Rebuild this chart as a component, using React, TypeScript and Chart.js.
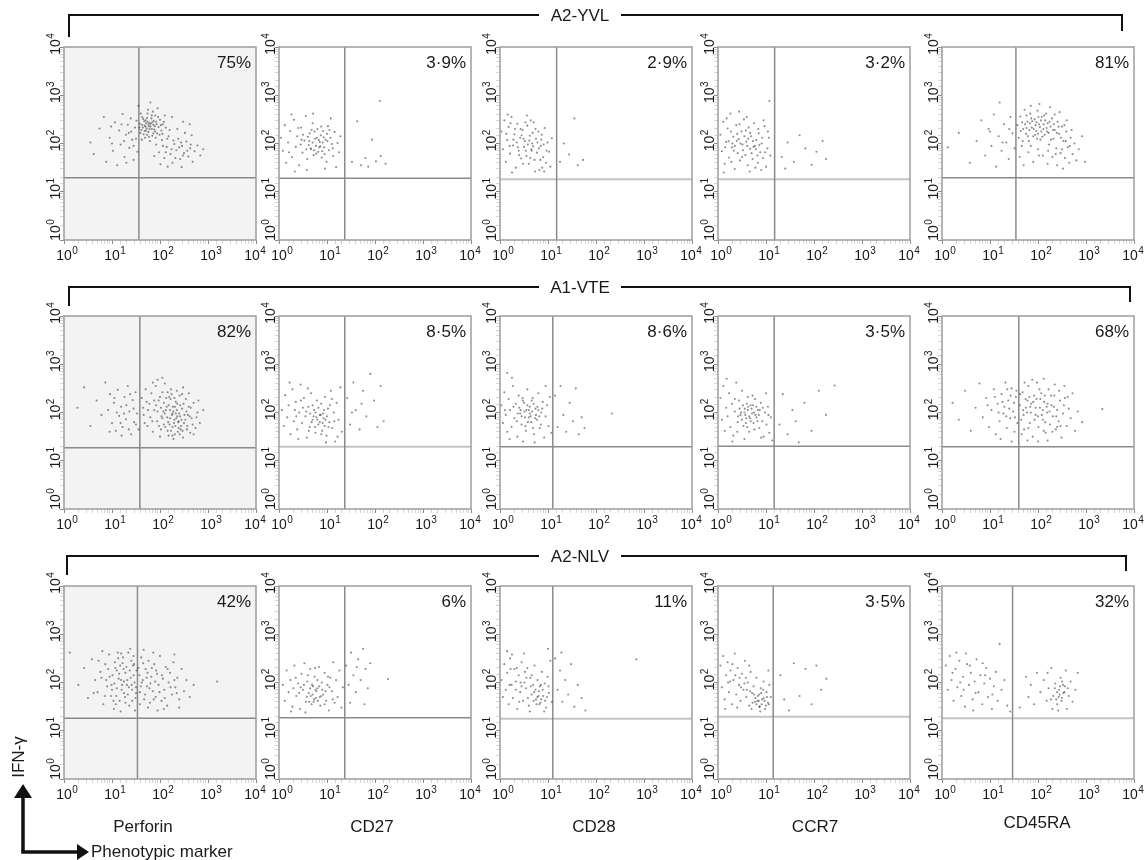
import React, { useEffect, useRef } from 'react';
import { Chart, registerables } from 'chart.js';

Chart.register(...registerables);

const FONT = '"Liberation Sans", Arial, Helvetica, sans-serif';

// ---------- DATA (log10 units: [x, y, x, y, ...]) ----------
const rowLabels = ['A2-YVL', 'A1-VTE', 'A2-NLV'];
const markers = ['Perforin', 'CD27', 'CD28', 'CCR7', 'CD45RA'];
const tickExponents = [0, 1, 2, 3, 4];

const percentsYVL = ['75%', '3·9%', '2·9%', '3·2%', '81%'];
const percentsVTE = ['82%', '8·5%', '8·6%', '3·5%', '68%'];
const percentsNLV = ['42%', '6%', '11%', '3·5%', '32%'];

const gateXYVL = [1.56, 1.37, 1.18, 1.18, 1.54];
const gateYYVL = [1.29, 1.28, 1.26, 1.26, 1.29];
const gateXVTE = [1.58, 1.37, 1.1, 1.17, 1.6];
const gateYVTE = [1.27, 1.29, 1.29, 1.3, 1.29];
const gateXNLV = [1.53, 1.37, 1.1, 1.15, 1.47];
const gateYNLV = [1.26, 1.27, 1.25, 1.29, 1.26];

const yvlPerforin = [
  0.55,2.02, 0.62,1.78, 0.74,2.31, 0.83,2.55, 0.88,1.62, 0.95,2.12, 1.02,1.85, 1.06,2.44, 1.11,1.55, 1.15,2.27,
  1.18,1.98, 1.22,2.61, 1.26,1.72, 1.29,2.18, 1.33,2.39, 1.36,1.91, 1.39,2.52, 1.42,2.08, 1.45,1.66, 1.48,2.33,
  1.51,2.47, 1.53,1.83, 1.25,2.05, 0.98,2.35, 1.40,2.25,
  1.58,2.41, 1.61,2.28, 1.63,2.55, 1.66,2.19, 1.68,2.37, 1.70,2.48, 1.72,2.31, 1.74,2.62, 1.76,2.24, 1.78,2.43,
  1.80,2.35, 1.82,2.52, 1.84,2.16, 1.86,2.39, 1.88,2.29, 1.90,2.58, 1.92,2.45, 1.94,2.21, 1.97,2.34, 2.00,2.49,
  2.03,2.27, 2.06,2.40, 1.64,2.33, 1.69,2.12, 1.75,2.70, 1.79,2.05, 1.85,2.66, 1.71,2.42, 1.77,2.36, 1.83,2.30,
  1.60,2.62, 1.67,2.46, 1.73,2.18, 1.87,2.47, 1.62,2.08, 2.10,2.58, 1.95,2.73, 2.12,2.33,
  1.92,1.98, 1.98,1.82, 2.04,2.07, 2.09,1.70, 2.14,1.93, 2.18,2.15, 2.22,1.78, 2.26,1.60, 2.30,1.99, 2.34,1.86,
  2.38,2.10, 2.42,1.68, 2.46,1.95, 2.50,1.80, 2.55,2.04, 2.59,1.73, 2.63,1.90, 2.68,1.62, 2.72,1.84, 2.78,1.96,
  2.84,1.75, 2.20,2.28, 2.36,2.30, 2.52,2.22, 1.88,1.74, 2.01,1.57, 2.16,1.52, 2.45,1.51, 2.66,2.17, 2.90,1.88,
  1.80,2.85, 2.25,2.55, 2.48,2.45, 1.55,2.78, 2.62,2.40,
  1.59,2.22, 1.65,2.51, 1.71,2.27, 1.74,2.45, 1.77,2.14, 1.81,2.41, 1.83,2.58, 1.86,2.21, 1.89,2.36, 1.91,2.12,
  1.93,2.40, 1.96,2.55, 1.99,2.18, 2.02,2.38, 2.05,2.20, 2.08,2.45, 1.57,2.33, 1.63,2.39, 1.68,2.26, 1.73,2.53,
  1.78,2.30, 1.84,2.44, 1.90,2.25, 1.76,2.40, 1.70,2.35, 2.15,2.10, 2.24,1.88, 2.32,1.70, 2.40,1.92, 2.48,1.75,
  2.57,1.85, 2.64,1.98, 2.12,1.82, 2.28,2.06, 2.44,2.02, 2.06,1.95, 1.35,2.22, 1.20,2.40, 1.45,1.95, 1.00,2.00,
  1.30,1.60, 1.50,2.10,
];
const yvlCD27 = [
  0.04,2.12, 0.08,1.85, 0.12,2.38, 0.15,1.60, 0.19,2.02, 0.23,2.26, 0.27,1.72, 0.31,2.49, 0.35,1.93, 0.38,2.15,
  0.42,1.55, 0.46,2.33, 0.49,1.81, 0.53,2.06, 0.56,2.57, 0.59,1.68, 0.62,1.97, 0.64,2.21, 0.67,1.88, 0.70,2.42,
  0.72,1.76, 0.75,2.10, 0.77,1.95, 0.80,2.30, 0.82,1.83, 0.85,2.03, 0.87,2.17, 0.89,1.71, 0.92,2.26, 0.94,1.92,
  0.97,2.08, 0.99,1.62, 1.02,2.36, 1.04,1.86, 1.07,2.12, 1.10,1.99, 1.13,1.74, 1.16,2.24, 1.19,1.51, 1.22,2.01,
  1.25,1.82, 1.28,2.15, 0.60,2.14, 0.70,2.02, 0.78,1.79, 0.86,1.94, 0.93,2.13, 0.66,1.90, 0.74,2.25, 0.83,2.07,
  0.90,1.84, 1.00,2.20, 0.50,2.18, 0.45,1.98, 0.58,1.45, 0.96,1.48, 0.33,1.42, 1.08,2.52, 0.26,2.60, 0.71,2.62,
  0.63,2.05, 0.68,2.28, 0.73,1.86, 0.79,2.12, 0.84,1.92, 0.88,2.35, 0.91,2.02, 0.95,1.78, 1.01,2.05, 1.05,2.28,
  0.57,1.88, 0.47,2.08, 0.40,2.32, 0.21,1.82, 1.12,1.90,
  1.52,1.62, 1.63,2.46, 1.71,1.55, 1.80,1.70, 1.94,2.08, 2.02,1.63, 2.12,1.74, 2.10,2.88, 1.86,1.52, 2.22,1.58,
];
const yvlCD28 = [
  0.03,2.25, 0.06,1.88, 0.09,2.48, 0.12,1.62, 0.15,2.07, 0.18,2.34, 0.21,1.79, 0.24,2.55, 0.27,1.96, 0.30,2.19,
  0.33,1.50, 0.36,2.41, 0.39,1.85, 0.42,2.12, 0.44,1.69, 0.47,2.28, 0.50,1.93, 0.52,2.05, 0.55,1.74, 0.57,2.37,
  0.60,1.58, 0.62,2.16, 0.65,1.88, 0.67,2.00, 0.70,2.44, 0.72,1.66, 0.75,2.10, 0.77,1.81, 0.80,2.25, 0.82,1.45,
  0.85,1.95, 0.87,2.18, 0.90,1.72, 0.93,2.32, 0.96,1.60, 0.99,2.02, 1.02,1.83, 1.05,1.52, 1.08,2.11, 0.35,2.02,
  0.45,2.17, 0.58,1.98, 0.68,2.22, 0.40,1.76, 0.53,2.44, 0.63,1.70, 0.78,2.02, 0.88,1.50, 0.48,1.58, 0.25,1.40,
  0.73,1.42, 0.16,2.60, 0.56,2.58, 0.92,1.42, 0.20,1.95, 0.31,2.30, 0.66,1.85, 0.84,1.66,
  0.28,2.08, 0.37,1.92, 0.43,2.30, 0.49,2.10, 0.54,1.85, 0.61,2.06, 0.69,1.94, 0.74,2.30, 0.81,1.90, 0.86,2.08,
  0.91,1.98, 0.13,2.20, 0.22,2.42, 0.64,2.48, 0.97,1.85,
  1.25,1.62, 1.33,2.00, 1.44,1.77, 1.55,2.52, 1.62,1.55, 1.73,1.66,
];
const yvlCCR7 = [
  0.05,2.18, 0.08,1.84, 0.11,2.45, 0.14,1.58, 0.17,2.03, 0.20,2.31, 0.23,1.71, 0.26,2.62, 0.29,1.92, 0.32,2.14,
  0.35,1.47, 0.38,2.38, 0.41,1.80, 0.43,2.09, 0.46,1.65, 0.49,2.25, 0.51,1.98, 0.54,2.50, 0.57,1.76, 0.59,2.04,
  0.62,1.55, 0.64,2.33, 0.67,1.89, 0.69,2.15, 0.72,1.68, 0.75,2.42, 0.77,1.95, 0.80,2.07, 0.83,1.60, 0.85,2.21,
  0.88,1.82, 0.91,2.00, 0.94,1.70, 0.97,2.36, 1.00,1.52, 1.03,1.90, 1.06,2.12, 1.09,1.75, 0.30,2.00, 0.40,2.20,
  0.52,1.86, 0.63,2.10, 0.74,1.93, 0.86,1.97, 0.47,2.00, 0.58,2.27, 0.70,1.80, 0.82,1.75, 0.22,2.05, 0.35,1.95,
  0.66,1.42, 0.12,1.40, 0.90,1.45, 0.44,2.66, 1.07,2.88, 0.18,2.52, 0.95,2.48, 0.60,2.55, 0.28,1.62, 0.78,1.50,
  0.27,2.25, 0.33,1.85, 0.39,2.05, 0.45,2.40, 0.50,1.72, 0.55,2.15, 0.61,1.95, 0.67,2.22, 0.73,2.05, 0.79,1.88,
  0.84,2.30, 0.92,2.12, 0.98,1.82, 0.15,1.92, 1.04,2.25,
  1.33,1.72, 1.45,2.02, 1.58,1.62, 1.70,2.17, 1.82,1.90, 1.95,1.56, 2.05,1.83, 2.18,2.05, 2.25,1.68, 1.40,1.48,
];
const yvlCD45RA = [
  0.12,1.92, 0.35,2.22, 0.58,1.60, 0.72,2.05, 0.82,2.48, 0.90,1.75, 0.97,2.30, 1.03,1.95, 1.08,2.60, 1.13,1.52,
  1.18,2.15, 1.24,1.85, 1.29,2.40, 1.34,2.02, 1.39,1.68, 1.43,2.55, 1.47,2.21, 1.51,1.90, 1.20,2.85,
  1.57,2.38, 1.60,2.12, 1.63,2.56, 1.66,1.95, 1.69,2.30, 1.72,2.70, 1.75,2.20, 1.78,2.45, 1.81,2.05, 1.84,2.62,
  1.87,2.33, 1.90,2.15, 1.93,2.50, 1.96,2.26, 1.99,2.68, 2.02,2.40, 2.05,2.08, 2.08,2.55, 2.11,2.30, 2.14,2.18,
  2.17,2.62, 2.20,2.42, 2.23,1.98, 2.26,2.35, 2.29,2.52, 2.32,2.10, 2.35,2.28, 2.38,1.90, 2.41,2.45, 2.44,2.20,
  2.47,1.80, 2.50,2.35, 2.53,2.05, 2.56,1.70, 2.59,2.25, 2.62,1.92, 2.65,1.60, 2.68,2.12, 2.72,1.78, 2.76,2.00,
  2.80,1.65, 2.85,1.88, 2.92,2.15, 1.62,1.72, 1.70,1.55, 1.80,1.82, 1.90,1.62, 2.00,1.88, 2.10,1.75, 2.20,1.58,
  2.30,1.72, 2.40,1.55, 2.52,1.48, 1.85,2.78, 2.03,2.82, 2.25,2.75, 1.95,2.38, 2.07,2.25, 1.76,2.58, 2.15,2.48,
  1.88,2.46, 2.00,2.20, 2.12,2.40, 1.82,2.28, 2.35,2.60, 1.67,2.44, 2.45,2.65, 1.98,2.10, 2.22,2.22, 2.60,2.48,
  2.98,1.62,
  1.64,2.26, 1.73,2.40, 1.79,2.15, 1.86,2.52, 1.91,2.30, 1.94,2.18, 2.01,2.55, 2.04,2.34, 2.09,2.14, 2.13,2.58,
  2.18,2.32, 2.24,2.45, 2.27,2.08, 2.33,2.40, 2.39,2.22, 2.43,2.35, 2.48,2.12, 2.55,2.38, 1.83,2.42, 1.97,2.44,
  2.06,2.48, 2.19,2.25, 2.31,2.28, 1.76,2.32, 2.58,2.05, 2.66,1.95, 2.70,2.28, 2.50,1.88, 2.37,1.78, 2.21,1.85,
  2.02,1.75, 1.85,1.95, 1.68,2.05, 1.40,2.30, 1.26,2.02, 1.00,2.25,
];

const vtePerforin = [
  0.28,2.10, 0.42,2.52, 0.55,1.72, 0.68,2.25, 0.78,1.95, 0.86,2.62,
  0.92,2.05, 0.96,2.38, 1.00,1.78, 1.04,2.20, 1.08,1.62, 1.12,2.47, 1.15,1.93, 1.19,2.12, 1.22,1.70, 1.26,2.32,
  1.29,1.86, 1.33,2.55, 1.36,2.02, 1.40,1.55, 1.43,2.26, 1.46,1.80, 1.49,2.42, 1.52,1.98, 1.55,1.65, 1.10,2.00,
  1.30,2.15, 1.45,2.08, 1.20,1.52,
  1.62,2.30, 1.66,1.95, 1.70,2.48, 1.74,1.72, 1.78,2.18, 1.82,2.40, 1.85,1.60, 1.88,2.05, 1.91,2.55, 1.94,1.82,
  1.97,2.25, 2.00,1.50, 2.02,2.10, 2.05,2.42, 2.08,1.75, 2.10,1.98, 2.13,2.30, 2.16,1.62, 2.18,2.15, 2.21,1.88,
  2.23,2.48, 2.26,1.70, 2.28,2.02, 2.31,1.55, 2.33,2.22, 2.36,1.92, 2.38,1.80, 2.41,2.35, 2.43,1.65, 2.46,2.08,
  2.48,1.48, 2.51,1.95, 2.54,2.28, 2.57,1.72, 2.60,2.12, 2.63,1.58, 2.66,1.88, 2.70,2.20, 2.74,1.68, 2.78,2.00,
  2.83,1.78, 2.90,2.05, 2.25,1.95, 2.30,1.85, 2.35,2.05, 2.20,1.75, 2.40,1.98, 2.32,1.72, 2.27,2.12, 2.37,1.60,
  2.22,2.28, 2.45,1.85, 2.15,1.90, 2.12,2.05, 2.05,1.88, 2.50,1.78, 2.55,2.02, 2.42,2.15, 2.18,1.52, 2.28,1.45,
  2.35,2.45, 2.00,2.32, 1.95,2.02, 1.88,2.25, 1.80,1.90, 1.75,2.05, 1.68,1.78, 1.85,2.62, 2.10,2.60, 2.48,2.52,
  2.60,2.40, 2.02,1.65, 2.62,1.92, 2.70,1.55, 2.08,2.20, 2.24,2.38, 2.33,1.98, 2.39,1.82, 2.44,1.72, 2.30,2.30,
  2.05,2.72, 1.95,2.68,
  2.03,1.92, 2.07,2.02, 2.11,1.70, 2.14,2.12, 2.17,1.80, 2.19,2.32, 2.23,1.62, 2.26,1.98, 2.29,1.78, 2.34,1.88,
  2.36,2.18, 2.39,1.68, 2.42,1.92, 2.47,1.62, 2.49,2.18, 2.53,1.85, 2.56,1.65, 2.58,1.95, 2.64,2.10, 2.68,1.75,
  2.21,2.05, 2.31,2.12, 2.41,1.55, 2.26,1.52, 2.46,2.38, 2.16,2.42, 1.98,1.72, 1.92,2.15, 1.84,1.82, 1.72,2.22,
  1.65,2.10, 2.76,1.90, 2.80,2.25, 1.05,2.30, 1.25,1.98, 1.38,2.38, 1.50,1.75, 1.18,1.78, 0.95,1.60, 1.35,1.65,
];
const vteCD27 = [
  0.06,2.05, 0.10,1.72, 0.13,2.36, 0.17,1.90, 0.20,2.15, 0.24,1.55, 0.28,2.48, 0.31,1.82, 0.35,2.22, 0.38,1.65,
  0.42,2.00, 0.45,2.58, 0.48,1.78, 0.52,2.30, 0.55,1.92, 0.58,1.48, 0.61,2.12, 0.64,1.70, 0.67,2.40, 0.70,1.85,
  0.73,2.05, 0.76,1.58, 0.79,2.25, 0.82,1.75, 0.85,1.95, 0.88,2.18, 0.90,1.62, 0.93,1.88, 0.96,2.32, 0.99,1.52,
  1.02,2.08, 1.05,1.80, 1.08,2.45, 1.11,1.68, 1.14,2.00, 1.17,1.40, 1.20,2.20, 1.24,1.85, 1.28,2.52, 1.31,1.60,
  0.85,1.80, 0.92,1.98, 0.78,1.90, 0.95,1.72, 0.88,1.55, 1.00,1.92, 0.70,2.15, 0.65,1.98, 0.82,2.10, 0.75,1.70,
  0.60,2.50, 0.50,2.10, 0.40,1.45, 1.10,2.28, 0.98,1.38, 0.33,2.05, 0.22,2.62, 1.22,1.50,
  0.80,1.85, 0.87,1.95, 0.91,1.78, 0.94,2.05, 0.97,1.85, 1.03,1.70, 0.76,2.00, 0.68,1.80, 0.72,1.92, 1.06,2.15,
  0.57,2.02, 0.46,2.25, 1.15,1.82, 0.36,1.92, 0.62,1.62,
  1.42,2.30, 1.48,1.75, 1.55,2.62, 1.60,2.05, 1.68,1.65, 1.75,2.45, 1.82,1.92, 1.90,2.80, 1.98,2.25, 2.05,1.70,
  2.12,2.55, 2.18,1.82, 1.52,2.00, 1.72,2.18,
];
const vteCD28 = [
  0.03,2.15, 0.06,1.78, 0.09,2.42, 0.12,1.95, 0.15,1.60, 0.18,2.28, 0.21,2.05, 0.24,1.70, 0.27,2.55, 0.30,1.88,
  0.33,2.18, 0.36,1.50, 0.39,2.35, 0.42,1.98, 0.45,1.75, 0.48,2.25, 0.51,2.02, 0.54,1.62, 0.57,2.48, 0.60,1.90,
  0.62,2.12, 0.65,1.80, 0.68,2.30, 0.71,1.55, 0.74,2.08, 0.77,1.85, 0.80,2.40, 0.83,1.68, 0.86,2.00, 0.89,2.22,
  0.92,1.48, 0.95,1.92, 0.98,2.15, 1.01,1.72, 1.04,2.32, 1.07,1.58, 0.55,2.05, 0.62,1.98, 0.70,2.18, 0.58,1.80,
  0.50,2.20, 0.67,2.02, 0.45,1.92, 0.75,1.95, 0.40,2.10, 0.80,2.05, 0.35,1.82, 0.85,1.75, 0.25,2.72, 0.15,2.82,
  0.48,1.40, 0.72,1.38, 0.20,1.45, 0.95,2.55, 0.10,2.05,
  0.52,1.90, 0.57,2.15, 0.60,2.05, 0.64,1.92, 0.66,2.25, 0.73,1.88, 0.78,2.12, 0.43,2.05, 0.47,2.30, 0.37,1.98,
  0.82,1.92, 0.88,2.08, 0.28,2.12, 0.53,1.72, 0.69,1.68,
  1.15,2.35, 1.20,1.70, 1.26,2.55, 1.32,1.95, 1.38,1.60, 1.45,2.20, 1.52,1.82, 1.58,2.50, 1.64,1.55, 1.70,1.90,
  1.76,1.68, 2.33,1.98,
];
const vteCCR7 = [
  0.05,2.30, 0.08,1.85, 0.11,2.55, 0.14,1.62, 0.17,2.10, 0.20,1.92, 0.23,2.40, 0.26,1.70, 0.29,2.18, 0.32,1.52,
  0.35,2.02, 0.38,2.62, 0.41,1.80, 0.44,2.25, 0.47,1.95, 0.50,2.45, 0.53,1.72, 0.56,2.08, 0.59,1.88, 0.62,2.32,
  0.65,1.60, 0.68,2.15, 0.71,1.98, 0.74,1.78, 0.77,2.28, 0.80,1.90, 0.83,2.05, 0.86,1.68, 0.89,2.20, 0.92,1.82,
  0.95,1.50, 0.98,2.00, 1.01,1.75, 1.04,2.12, 1.07,1.58, 1.10,1.90, 1.13,1.42, 0.55,2.00, 0.60,2.18, 0.65,1.92,
  0.70,2.08, 0.75,2.00, 0.50,1.85, 0.58,1.78, 0.68,1.82, 0.80,2.12, 0.45,2.08, 0.85,1.95, 0.62,2.05, 0.72,2.35,
  0.40,1.60, 0.90,1.48, 0.30,1.40, 1.00,2.40, 0.18,2.70, 0.55,1.45,
  0.57,1.95, 0.63,2.12, 0.67,1.88, 0.73,2.15, 0.78,1.95, 0.52,2.15, 0.48,2.00, 0.82,1.82, 0.87,2.05, 0.61,1.70,
  0.42,1.92, 0.93,2.10, 0.35,2.28, 0.76,1.65, 1.05,1.95,
  1.28,1.75, 1.35,2.38, 1.45,1.55, 1.55,2.05, 1.68,1.38, 1.80,2.20, 1.95,1.62, 2.10,2.45, 2.25,1.95, 2.43,2.56,
  1.62,1.82,
];
const vteCD45RA = [
  0.22,2.20, 0.35,1.85, 0.48,2.45, 0.60,1.62, 0.70,2.10, 0.78,2.60, 0.85,1.90, 0.92,2.30, 0.98,1.70, 1.03,2.05,
  1.08,2.48, 1.12,1.55, 1.16,2.18, 1.20,1.82, 1.24,2.38, 1.28,1.98, 1.32,2.62, 1.35,1.68, 1.38,2.25, 1.42,1.88,
  1.45,2.50, 1.48,2.02, 1.51,1.60, 1.54,2.32, 1.57,1.78, 1.30,2.12, 1.40,2.08, 1.50,2.20, 1.22,1.45, 1.45,1.40,
  1.62,2.15, 1.65,1.85, 1.68,2.42, 1.71,1.65, 1.74,2.28, 1.77,2.00, 1.80,2.55, 1.83,1.78, 1.86,2.18, 1.89,1.50,
  1.92,2.35, 1.95,1.95, 1.98,2.62, 2.01,1.70, 2.04,2.10, 2.07,2.40, 2.10,1.85, 2.13,2.22, 2.16,1.58, 2.19,2.00,
  2.22,2.48, 2.25,1.75, 2.28,2.15, 2.31,1.92, 2.34,2.35, 2.37,1.65, 2.40,2.05, 2.43,1.82, 2.46,2.25, 2.49,1.48,
  2.52,1.98, 2.56,2.30, 2.60,1.72, 2.64,2.08, 2.68,1.88, 2.72,2.40, 2.77,1.62, 2.83,2.02, 1.75,2.10, 1.85,2.00,
  1.90,2.22, 1.95,2.10, 2.00,1.92, 2.05,2.28, 2.10,2.05, 2.15,1.80, 1.82,2.32, 1.70,1.95, 2.20,2.18, 2.30,1.60,
  1.66,1.55, 1.78,1.42, 2.00,1.40, 2.20,1.42, 1.88,2.68, 2.12,2.70, 2.35,2.58, 2.55,2.55, 1.72,2.62, 3.34,2.07,
  2.92,1.80,
  1.63,2.38, 1.69,2.05, 1.78,2.25, 1.84,2.12, 1.93,1.85, 1.97,2.28, 2.03,2.48, 2.08,1.95, 2.14,2.35, 2.18,2.12,
  2.24,2.02, 2.27,2.35, 2.33,2.12, 2.38,1.92, 2.44,2.45, 2.47,1.72, 2.54,2.15, 2.62,2.32, 1.80,1.68, 2.12,1.62,
  2.40,1.70, 1.26,2.22, 1.34,1.92, 1.43,2.35, 1.52,1.90, 1.18,2.00, 1.55,2.45, 1.36,2.48, 1.10,2.32, 0.95,2.15,
];

const nlvPerforin = [
  0.12,2.62, 0.30,1.95, 0.42,2.30, 0.50,1.68, 0.58,2.48, 0.65,2.05, 0.70,1.80, 0.76,2.22, 0.82,1.55, 0.86,2.38,
  0.90,1.92, 0.94,2.58, 0.98,1.72, 1.01,2.15, 1.04,1.45, 1.07,2.30, 1.10,1.88, 1.13,2.50, 1.16,1.62, 1.19,2.05,
  1.22,2.40, 1.25,1.78, 1.28,2.20, 1.31,1.95, 1.34,2.62, 1.36,1.52, 1.39,2.10, 1.42,1.85, 1.44,2.35, 1.47,2.00,
  1.49,1.68, 1.51,2.25, 0.95,2.12, 1.05,1.98, 1.15,2.18, 1.25,2.02, 1.35,1.90, 1.45,2.15, 1.20,1.85, 1.30,2.32,
  1.40,2.45, 1.10,2.25, 1.00,1.85, 0.88,2.05, 1.48,1.42, 1.18,1.40, 0.80,2.65, 1.38,2.70, 1.28,1.58, 1.50,1.90,
  1.12,2.62, 0.72,2.45, 1.42,1.62, 1.33,1.75, 1.23,2.52, 0.62,1.78, 1.08,1.55,
  1.55,2.30, 1.58,1.80, 1.61,2.52, 1.64,2.05, 1.67,1.65, 1.70,2.28, 1.73,1.92, 1.76,2.45, 1.79,1.58, 1.82,2.12,
  1.85,1.82, 1.88,2.38, 1.91,1.70, 1.94,2.18, 1.97,1.95, 2.00,2.55, 2.03,1.62, 2.06,2.08, 2.09,1.85, 2.12,2.32,
  2.15,1.52, 2.18,2.00, 2.21,2.20, 2.25,1.75, 2.28,2.42, 2.32,1.90, 2.36,2.10, 2.40,1.65, 2.45,2.28, 2.50,1.82,
  2.55,2.05, 2.62,1.70, 2.70,1.95, 1.62,2.00, 1.72,2.10, 1.80,1.98, 1.90,2.02, 1.66,2.68, 1.86,2.62, 2.08,1.45,
  1.95,1.42, 2.30,2.58, 1.75,1.48, 3.19,2.02, 2.40,1.48,
  0.92,2.28, 0.99,1.95, 1.06,2.42, 1.09,1.72, 1.14,2.08, 1.17,2.35, 1.21,1.95, 1.24,2.28, 1.27,1.70, 1.32,2.05,
  1.37,2.25, 1.41,1.95, 1.46,2.38, 1.50,1.78, 1.57,2.15, 1.60,1.92, 1.65,2.40, 1.69,1.75, 1.74,2.20, 1.78,1.88,
  1.83,2.30, 1.87,1.65, 1.92,2.25, 1.99,1.80, 2.04,2.15, 2.10,1.68, 2.16,2.28, 2.22,1.90, 2.30,2.05, 2.35,1.78,
  1.03,1.62, 0.85,1.72, 0.78,2.10, 1.19,2.60, 1.45,2.55, 1.58,1.55,
];
const nlvCD27 = [
  0.08,1.95, 0.12,1.62, 0.16,2.25, 0.20,1.80, 0.24,2.05, 0.28,1.50, 0.32,2.35, 0.36,1.72, 0.40,1.98, 0.44,1.45,
  0.47,2.18, 0.50,1.85, 0.53,2.40, 0.56,1.60, 0.59,2.02, 0.62,1.78, 0.65,2.28, 0.68,1.55, 0.71,1.92, 0.74,2.12,
  0.77,1.68, 0.80,1.88, 0.83,2.32, 0.86,1.52, 0.89,2.00, 0.92,1.75, 0.95,2.20, 0.98,1.62, 1.01,1.95, 1.04,1.42,
  1.07,2.10, 1.10,1.82, 1.13,2.42, 1.16,1.58, 1.19,2.05, 1.22,1.70, 1.26,2.25, 1.30,1.48, 1.33,1.90, 0.70,1.75,
  0.78,1.82, 0.85,1.70, 0.72,1.60, 0.65,1.88, 0.90,1.85, 0.58,1.70, 0.80,2.05, 0.60,2.15, 0.45,1.90, 0.95,1.55,
  0.35,2.10, 0.25,1.40, 1.05,1.90, 0.55,1.38,
  0.66,1.72, 0.69,1.95, 0.73,1.65, 0.76,1.85, 0.81,1.62, 0.84,1.92, 0.88,1.72, 0.63,1.60, 0.52,1.95, 0.42,1.78,
  0.97,1.82, 1.02,2.12, 0.30,1.88, 1.12,1.65, 0.75,2.30,
  1.40,2.35, 1.45,1.95, 1.50,2.62, 1.55,2.15, 1.60,1.80, 1.65,2.48, 1.70,2.05, 1.75,2.70, 1.80,2.28, 1.85,1.88,
  1.90,2.40, 1.48,1.58, 1.62,2.32, 2.27,2.07, 1.78,1.55,
];
const nlvCD28 = [
  0.03,2.05, 0.06,1.70, 0.09,2.38, 0.12,1.85, 0.15,2.20, 0.18,1.55, 0.21,2.50, 0.24,1.95, 0.27,1.68, 0.30,2.28,
  0.33,2.02, 0.36,1.45, 0.39,2.15, 0.42,1.80, 0.45,2.42, 0.48,1.62, 0.51,2.00, 0.54,1.88, 0.57,2.30, 0.60,1.52,
  0.63,2.10, 0.66,1.75, 0.69,1.95, 0.72,2.35, 0.75,1.65, 0.78,2.05, 0.81,1.82, 0.84,1.58, 0.87,2.22, 0.90,1.72,
  0.93,1.98, 0.96,1.48, 0.99,2.12, 1.02,1.78, 1.05,2.45, 1.08,1.60, 0.70,1.62, 0.78,1.70, 0.82,1.55, 0.74,1.85,
  0.66,2.15, 0.55,2.10, 0.45,1.92, 0.35,2.30, 0.25,2.58, 0.85,1.95, 0.92,1.40, 0.15,2.65, 0.50,2.60, 0.62,1.40,
  0.40,1.60, 0.20,1.95, 1.00,2.70,
  0.71,1.80, 0.76,1.55, 0.80,1.72, 0.83,1.92, 0.86,1.65, 0.89,1.85, 0.94,1.62, 0.64,1.92, 0.58,1.68, 0.52,2.22,
  0.43,2.00, 0.33,1.85, 1.01,1.92, 0.98,1.70, 0.22,2.28,
  1.15,2.50, 1.20,1.85, 1.25,2.25, 1.30,1.60, 1.36,2.05, 1.42,1.75, 1.48,2.38, 1.55,1.50, 1.62,1.95, 1.70,1.68,
  1.78,1.42, 2.84,2.48, 1.28,2.62,
];
const nlvCCR7 = [
  0.05,2.35, 0.08,1.90, 0.11,2.55, 0.14,1.65, 0.17,2.15, 0.20,2.42, 0.23,1.80, 0.26,2.25, 0.29,1.55, 0.32,2.05,
  0.35,2.60, 0.38,1.75, 0.41,2.30, 0.44,1.95, 0.47,1.62, 0.50,2.18, 0.53,1.85, 0.56,2.45, 0.59,1.70, 0.62,2.00,
  0.65,1.52, 0.68,2.22, 0.71,1.78, 0.74,1.92, 0.77,1.60, 0.80,2.10, 0.83,1.72, 0.86,1.50, 0.89,1.88, 0.92,1.65,
  0.95,2.02, 0.98,1.45, 1.01,1.80, 1.04,1.58, 1.07,1.95, 1.10,1.70, 0.85,1.62, 0.90,1.78, 0.80,1.55, 0.95,1.68,
  0.75,1.75, 0.88,1.40, 1.00,1.52, 0.70,1.45, 0.60,1.85, 0.45,2.10, 0.30,2.38, 0.55,1.98, 0.65,2.35, 0.40,1.48,
  0.15,1.45, 0.25,2.02, 1.05,2.25,
  0.82,1.62, 0.86,1.75, 0.91,1.55, 0.94,1.85, 0.97,1.62, 1.02,1.70, 0.87,1.50, 0.78,1.68, 0.72,1.58, 0.67,1.82,
  1.06,1.55, 0.58,2.10, 0.48,1.90, 0.36,2.15, 0.21,2.00,
  1.30,2.15, 1.38,1.65, 1.48,1.42, 1.58,2.40, 1.70,1.72, 1.82,2.28, 1.95,1.55, 2.05,2.35, 2.15,1.85, 2.26,2.08,
];
const nlvCD45RA = [
  0.08,2.35, 0.12,1.85, 0.16,2.55, 0.20,2.05, 0.24,1.62, 0.28,2.28, 0.32,1.90, 0.36,2.45, 0.40,1.72, 0.44,2.12,
  0.48,1.50, 0.52,2.38, 0.56,1.95, 0.60,2.20, 0.64,1.65, 0.68,2.02, 0.72,2.48, 0.76,1.80, 0.80,2.15, 0.84,1.55,
  0.88,1.98, 0.92,2.30, 0.96,1.70, 1.00,2.08, 1.04,1.45, 1.08,1.92, 1.12,2.22, 1.16,1.62, 1.20,2.80, 1.24,1.85,
  1.30,2.05, 1.36,1.52, 1.42,1.40, 0.30,2.62, 0.50,2.60, 0.65,1.42, 0.45,1.85, 0.85,2.40,
  0.38,2.00, 0.58,2.35, 0.70,1.78, 0.90,2.15, 1.05,1.75, 0.22,2.20,
  1.75,2.12, 1.80,1.70, 1.85,1.95, 1.92,1.55, 1.98,2.20, 2.05,1.80, 2.12,2.05, 2.18,1.62, 2.22,1.88, 2.28,2.30,
  2.32,1.72, 2.36,1.98, 2.40,1.55, 2.44,1.85, 2.47,2.10, 2.50,1.68, 2.53,1.78, 2.56,1.92, 2.60,1.45, 2.64,1.72,
  2.68,2.02, 2.72,1.60, 2.78,1.85, 2.45,1.75, 2.38,1.65, 2.52,1.95, 2.30,1.45, 2.20,2.20, 2.83,2.20, 2.58,2.25,
  2.42,1.42, 1.62,1.48,
  2.40,1.80, 2.46,1.92, 2.49,1.62, 2.43,1.70, 2.55,1.80, 2.35,1.88, 2.62,1.88, 2.27,1.65, 2.50,2.02,
];

// ---------- LAYOUT ----------
const PANEL_LEFTS = [64, 279, 500, 718, 942];
const ROW_TOPS = [47, 316, 586];
const PW = 192;
const PH = 193;
const PAD_L = 36;
const PAD_T = 22;
const PAD_R = 18;
const PAD_B = 32;
const LIGHT_H = [
  [false, false, true, true, false],
  [false, true, false, false, false],
  [false, false, true, true, true],
];

type PanelSpec = {
  row: number;
  col: number;
  pts: number[];
  gx: number;
  gy: number;
  pct: string;
};

const rowSeries = [yvlPerforin, yvlCD27, yvlCD28, yvlCCR7, yvlCD45RA];
const rowSeries2 = [vtePerforin, vteCD27, vteCD28, vteCCR7, vteCD45RA];
const rowSeries3 = [nlvPerforin, nlvCD27, nlvCD28, nlvCCR7, nlvCD45RA];
const allSeries = [rowSeries, rowSeries2, rowSeries3];
const allPct = [percentsYVL, percentsVTE, percentsNLV];
const allGX = [gateXYVL, gateXVTE, gateXNLV];
const allGY = [gateYYVL, gateYVTE, gateYNLV];

const PANELS: PanelSpec[] = [];
for (let r = 0; r < 3; r++) {
  for (let c = 0; c < 5; c++) {
    PANELS.push({ row: r, col: c, pts: allSeries[r][c], gx: allGX[r][c], gy: allGY[r][c], pct: allPct[r][c] });
  }
}

function toPoints(flat: number[]) {
  const out: { x: number; y: number }[] = [];
  for (let i = 0; i + 1 < flat.length; i += 2) {
    out.push({ x: Math.pow(10, flat[i]), y: Math.pow(10, flat[i + 1]) });
  }
  return out;
}

function isMajor(v: number | undefined) {
  if (v === undefined || v === null) return false;
  const l = Math.log10(v);
  return Math.abs(l - Math.round(l)) < 1e-6;
}

function drawPow(ctx: CanvasRenderingContext2D, cx: number, base: number, e: number) {
  ctx.font = '14px ' + FONT;
  const w = ctx.measureText('10').width;
  ctx.textAlign = 'left';
  ctx.textBaseline = 'alphabetic';
  ctx.fillText('10', cx - w / 2, base);
  ctx.font = '10px ' + FONT;
  ctx.fillText(String(e), cx + w / 2 + 0.5, base - 6);
}

function decorPlugin(p: PanelSpec) {
  return {
    id: 'decor',
    beforeDatasetsDraw(chart: any) {
      if (p.col !== 0) return;
      const { ctx, chartArea: a } = chart;
      ctx.save();
      ctx.fillStyle = '#f3f3f3';
      ctx.fillRect(a.left, a.top, a.right - a.left, a.bottom - a.top);
      ctx.restore();
    },
    afterDraw(chart: any) {
      const { ctx, chartArea: a, scales } = chart;
      ctx.save();
      ctx.strokeStyle = '#9d9d9d';
      ctx.lineWidth = 1.5;
      ctx.strokeRect(a.left, a.top, a.right - a.left, a.bottom - a.top);
      ctx.fillStyle = '#1a1a1a';
      for (const e of tickExponents) {
        const v = Math.pow(10, e);
        const px = scales.x.getPixelForValue(v);
        drawPow(ctx, px + (e === 4 ? -4 : 0), a.bottom + 20, e);
        const py = scales.y.getPixelForValue(v);
        ctx.save();
        ctx.translate(a.left - 4, py + (e === 0 ? -7 : 0));
        ctx.rotate(-Math.PI / 2);
        drawPow(ctx, 0, 0, e);
        ctx.restore();
      }
      ctx.font = '17px ' + FONT;
      ctx.textAlign = 'right';
      ctx.textBaseline = 'alphabetic';
      ctx.fillStyle = '#1a1a1a';
      ctx.fillText(p.pct, a.right - 5, a.top + 21);
      ctx.restore();
    },
  };
}

function axis(which: 'x' | 'y') {
  return {
    type: 'logarithmic',
    min: 1,
    max: 10000,
    position: which === 'x' ? 'bottom' : 'left',
    border: { display: false },
    grid: {
      display: true,
      drawOnChartArea: false,
      drawTicks: true,
      tickLength: 4,
      lineWidth: 1,
      color: (c: any) => (isMajor(c.tick ? c.tick.value : undefined) ? '#8a8a8a' : '#d6d6d6'),
    },
    ticks: {
      autoSkip: false,
      maxRotation: 0,
      minRotation: 0,
      padding: 0,
      callback: () => '',
    },
    afterFit: (s: any) => {
      if (which === 'x') s.height = PAD_B;
      else s.width = PAD_L;
    },
  };
}

function makeConfig(p: PanelSpec): any {
  const light = LIGHT_H[p.row][p.col];
  const gxv = Math.pow(10, p.gx);
  const gyv = Math.pow(10, p.gy);
  return {
    type: 'scatter',
    data: {
      datasets: [
        {
          data: toPoints(p.pts),
          pointRadius: 1.05,
          pointHoverRadius: 1.05,
          backgroundColor: 'rgba(50,50,50,0.55)',
          borderWidth: 0,
        },
        {
          data: [{ x: gxv, y: 1 }, { x: gxv, y: 10000 }],
          showLine: true,
          borderColor: '#8a8a8a',
          borderWidth: 1.5,
          pointRadius: 0,
        },
        {
          data: [{ x: 1, y: gyv }, { x: 10000, y: gyv }],
          showLine: true,
          borderColor: light ? '#c4c4c4' : '#8a8a8a',
          borderWidth: light ? 2 : 1.5,
          pointRadius: 0,
        },
      ],
    },
    options: {
      responsive: false,
      animation: false,
      devicePixelRatio: 1,
      events: [],
      layout: { padding: { left: 0, top: PAD_T, right: PAD_R, bottom: 0 } },
      plugins: { legend: { display: false }, tooltip: { enabled: false } },
      scales: { x: axis('x'), y: axis('y') },
    },
    plugins: [decorPlugin(p)],
  };
}

const BRACKETS = [
  { y: 15, x1: 69, x2: 1122, l: 37, r: 31, cx: 580 },
  { y: 287, x1: 69, x2: 1130, l: 306, r: 302, cx: 580 },
  { y: 556, x1: 67, x2: 1126, l: 575, r: 571, cx: 580 },
];
const TITLE_X = [143, 372, 594, 815, 1037];
const TITLE_Y = [826, 826, 826, 826, 822];

const textStyle: React.CSSProperties = {
  position: 'absolute',
  fontFamily: FONT,
  fontSize: 17,
  color: '#1a1a1a',
  whiteSpace: 'nowrap',
  lineHeight: 1,
};

export default function App() {
  const refs = useRef<(HTMLCanvasElement | null)[]>([]);

  useEffect(() => {
    const charts: Chart[] = [];
    PANELS.forEach((p, i) => {
      const c = refs.current[i];
      if (c) charts.push(new Chart(c, makeConfig(p)));
    });
    return () => {
      charts.forEach((ch) => ch.destroy());
    };
  }, []);

  const W = PAD_L + PW + PAD_R;
  const H = PAD_T + PH + PAD_B;
  const GAP = 41;

  return (
    <div style={{ position: 'absolute', left: 0, top: 0, width: 1148, height: 860, background: '#ffffff', overflow: 'hidden' }}>
      {PANELS.map((p, i) => (
        <canvas
          key={i}
          ref={(el) => {
            refs.current[i] = el;
          }}
          width={W}
          height={H}
          style={{ position: 'absolute', left: PANEL_LEFTS[p.col] - PAD_L, top: ROW_TOPS[p.row] - PAD_T, width: W, height: H }}
        />
      ))}
      <svg width={1148} height={860} style={{ position: 'absolute', left: 0, top: 0, pointerEvents: 'none' }}>
        {BRACKETS.map((b, i) => (
          <g key={i} stroke="#111" strokeWidth={2} fill="none">
            <polyline points={`${b.x1},${b.l} ${b.x1},${b.y} ${b.cx - GAP},${b.y}`} />
            <polyline points={`${b.cx + GAP},${b.y} ${b.x2},${b.y} ${b.x2},${b.r}`} />
          </g>
        ))}
        <g stroke="#111" strokeWidth={3.5} fill="none">
          <line x1={23} y1={796} x2={23} y2={852} />
          <line x1={21.25} y1={852} x2={79} y2={852} />
        </g>
        <polygon points="23,784 14,798 32,798" fill="#111" />
        <polygon points="89,852 77,844 77,860" fill="#111" />
      </svg>
      {BRACKETS.map((b, i) => (
        <div key={'bl' + i} style={{ ...textStyle, left: b.cx, top: b.y, transform: 'translate(-50%, -50%)' }}>
          {rowLabels[i]}
        </div>
      ))}
      {markers.map((m, i) => (
        <div key={'m' + i} style={{ ...textStyle, left: TITLE_X[i], top: TITLE_Y[i], transform: 'translate(-50%, -50%)' }}>
          {m}
        </div>
      ))}
      <div style={{ ...textStyle, left: 91, top: 851, transform: 'translateY(-50%)' }}>Phenotypic marker</div>
      <div style={{ ...textStyle, left: 18, top: 757, transform: 'translate(-50%, -50%) rotate(-90deg)' }}>IFN-γ</div>
    </div>
  );
}
